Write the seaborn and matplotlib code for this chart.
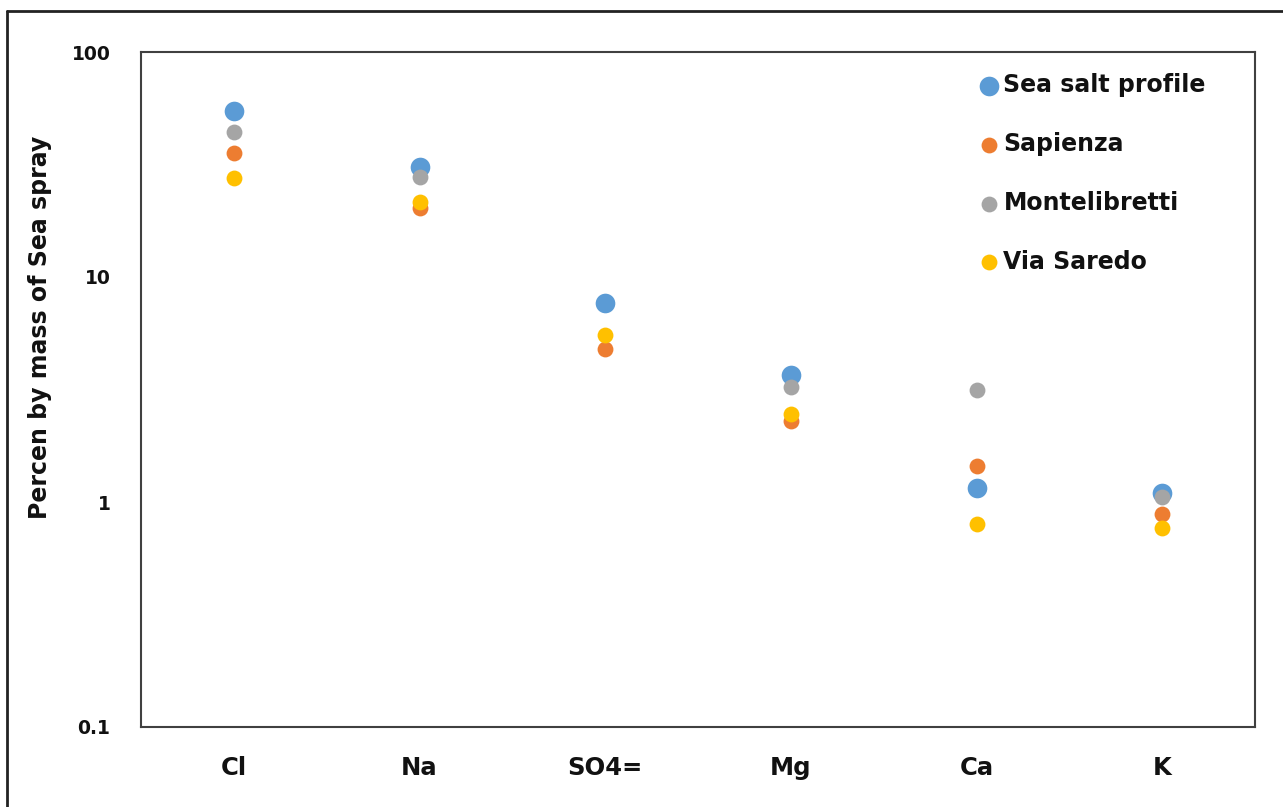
import matplotlib
matplotlib.use("Agg")
import matplotlib.pyplot as plt
import seaborn as sns
import pandas as pd
import numpy as np
from matplotlib.lines import Line2D

categories = ["Cl", "Na", "SO4=", "Mg", "Ca", "K"]
sea_salt_profile = [54.7, 30.9, 7.7, 3.65, 1.15, 1.10]
sapienza = [35.6, 20.3, 4.8, 2.30, 1.45, 0.88]
montelibretti = [44.2, 27.9, np.nan, 3.23, 3.16, 1.05]
via_saredo = [27.6, 21.6, 5.5, 2.47, 0.80, 0.77]

series_names = ["Sea salt profile", "Sapienza", "Montelibretti", "Via Saredo"]
series_values = [sea_salt_profile, sapienza, montelibretti, via_saredo]
colors = ["#5B9BD5", "#ED7D31", "#A5A5A5", "#FFC000"]
sizes = [200, 130, 130, 130]

ytick_vals = [0.1, 1, 10, 100]
ytick_labels = ["0.1", "1", "10", "100"]

sns.set_theme(style="white")
plt.rcParams["font.family"] = ["DejaVu Sans"]
plt.rcParams["font.weight"] = "bold"

fig = plt.figure(figsize=(12.83, 8.07), dpi=100)
ax = fig.add_axes([141/1283, 1-727/807, (1255-141)/1283, (727-52)/807])

for name, vals, c, s in zip(series_names, series_values, colors, sizes):
    df = pd.DataFrame({"Element": categories, "Value": vals})
    sns.scatterplot(data=df, x="Element", y="Value", color=c, s=s,
                    linewidth=0, ax=ax, label=name)

ax.set_yscale("log")
ax.set_ylim(0.1, 100)
ax.set_xlim(-0.5, len(categories) - 0.5)
ax.set_yticks(ytick_vals)
ax.set_yticklabels(ytick_labels)
ax.yaxis.set_minor_locator(matplotlib.ticker.NullLocator())
ax.tick_params(axis="both", length=0, colors="#111111")
ax.tick_params(axis="y", pad=22, labelsize=13.5)
ax.tick_params(axis="x", pad=21, labelsize=17.5)
for lab in ax.get_xticklabels() + ax.get_yticklabels():
    lab.set_fontweight("bold")

ax.set_xlabel("")
ax.set_ylabel("Percen by mass of Sea spray", fontsize=17, fontweight="bold", color="#111111")
ax.yaxis.set_label_coords((52-141)/1114, 1-(327-52)/675)

for sp in ax.spines.values():
    sp.set_visible(True)
    sp.set_color("#404040")
    sp.set_linewidth(1.5)

leg = ax.legend(loc="upper left", bbox_to_anchor=((968-141)/1114, 1-(64-52)/675),
                frameon=False, fontsize=17, labelspacing=1.47,
                handletextpad=0.1, handlelength=1.0, borderaxespad=0)
for t in leg.get_texts():
    t.set_fontweight("bold")
    t.set_color("#111111")

fig.add_artist(Line2D([7/1283, 7/1283], [0, 1-11/807], color="#222222", lw=2, transform=fig.transFigure))
fig.add_artist(Line2D([7/1283, 1], [1-11/807, 1-11/807], color="#222222", lw=2, transform=fig.transFigure))

fig.savefig("out.png", dpi=100)
